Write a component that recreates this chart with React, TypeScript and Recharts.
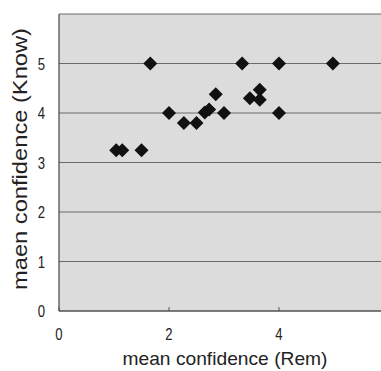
import React from "react";
import { ScatterChart, Scatter, XAxis, YAxis, CartesianGrid } from "recharts";

const remValues = [1.04, 1.15, 1.5, 1.66, 2.0, 2.27, 2.5, 2.65, 2.73, 2.85, 3.0, 3.33, 3.47, 3.65, 3.65, 4.0, 4.0, 4.98];
const knowValues = [3.25, 3.25, 3.25, 5.0, 4.0, 3.8, 3.8, 4.01, 4.07, 4.38, 4.0, 5.0, 4.3, 4.47, 4.27, 5.0, 4.0, 5.0];
const xTicks = [0, 2, 4, 6];
const yTicks = [0, 1, 2, 3, 4, 5, 6];
const yTickLabels = ["0", "1", "2", "3", "4", "5", ""];
const xTitle = "mean confidence (Rem)";
const yTitle = "maen confidence (Know)";

const data = remValues.map((x, i) => ({ x, y: knowValues[i] }));

const FONT = "'Liberation Sans', Arial, sans-serif";

const XTick = (props: any) => {
  const { x, y, payload } = props;
  return (
    <g transform={`translate(${x},${y})`}>
      <line x1={0} y1={-4} x2={0} y2={0} stroke="#555" strokeWidth={1} />
      <text
        x={0}
        y={29}
        textAnchor="middle"
        fontSize={16}
        fontFamily={FONT}
        fill="#222"
        transform="scale(0.82,1)"
      >
        {payload.value === 6 ? "" : String(payload.value)}
      </text>
    </g>
  );
};

const YTick = (props: any) => {
  const { x, y, payload } = props;
  const idx = yTicks.indexOf(payload.value);
  return (
    <g transform={`translate(${x - 14},${y + 6})`}>
      <text x={0} y={0} textAnchor="end" fontSize={16} fontFamily={FONT} fill="#222" transform="scale(0.82,1)">
        {idx >= 0 ? yTickLabels[idx] : ""}
      </text>
    </g>
  );
};

const XTitle = () => (
  <text
    x={225}
    y={365}
    textAnchor="middle"
    fontSize={19}
    fontFamily={FONT}
    fill="#222"
    textLength={205}
    lengthAdjust="spacingAndGlyphs"
  >
    {xTitle}
  </text>
);

const YTitle = () => (
  <text
    transform="translate(27,159) rotate(-90)"
    x={0}
    y={0}
    textAnchor="middle"
    fontSize={20}
    fontFamily={FONT}
    fill="#222"
    textLength={262}
    lengthAdjust="spacingAndGlyphs"
  >
    {yTitle}
  </text>
);

const Diamond = (props: any) => {
  const { cx, cy } = props;
  const r = 7;
  return (
    <polygon
      points={`${cx},${cy - r} ${cx + r},${cy} ${cx},${cy + r} ${cx - r},${cy}`}
      fill="#111"
    />
  );
};

export default function App() {
  return (
    <div style={{ position: "absolute", left: 0, top: 0, width: 381, height: 371, overflow: "hidden", background: "#fff" }}>
      <ScatterChart width={400} height={371} margin={{ top: 14, right: 11, bottom: 0, left: 0 }}>
        <CartesianGrid
          vertical={false}
          stroke="#6a6a6a"
          strokeWidth={1}
          fill="#dcdcdc"
          fillOpacity={1}
        />
        <XAxis
          type="number"
          dataKey="x"
          domain={[0, 6]}
          ticks={xTicks}
          height={60}
          tickSize={0}
          tickMargin={0}
          tickLine={false}
          axisLine={{ stroke: "#444", strokeWidth: 1.2 }}
          tick={<XTick />}
          interval={0}
          allowDataOverflow
          label={<XTitle />}
        />
        <YAxis
          type="number"
          dataKey="y"
          domain={[0, 6]}
          ticks={yTicks}
          width={59}
          tickSize={0}
          tickMargin={0}
          tickLine={false}
          axisLine={{ stroke: "#444", strokeWidth: 1.2 }}
          tick={<YTick />}
          interval={0}
          allowDataOverflow
          label={<YTitle />}
        />
        <Scatter data={data} shape={<Diamond />} isAnimationActive={false} />
      </ScatterChart>
    </div>
  );
}
